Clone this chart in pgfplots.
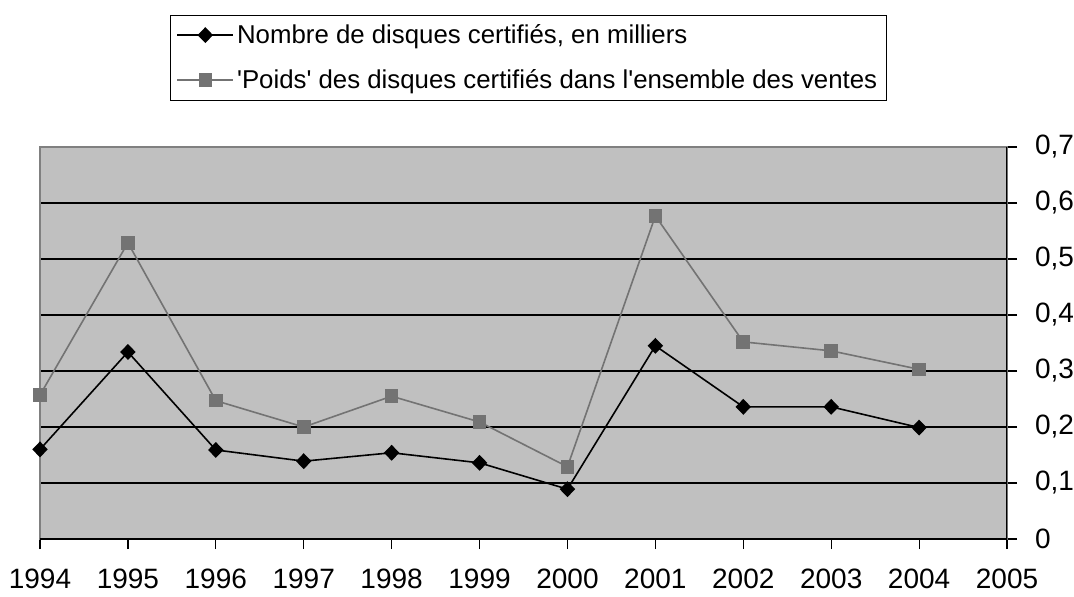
\documentclass[border=0pt]{standalone}
\usepackage{fontspec}
\setmainfont{Liberation Sans}
\usepackage{pgfplots}
\pgfplotsset{compat=1.18}
\definecolor{plotbg}{HTML}{C0C0C0}
\definecolor{sergray}{HTML}{737373}
\begin{document}
\begin{tikzpicture}
\path[use as bounding box] (-20pt,-28.5pt) rectangle (517pt,269.5pt);
\begin{axis}[
  at={(0,0)}, anchor=south west,
  scale only axis,
  width=483.5pt, height=196pt,
  xmin=0, xmax=11, ymin=0, ymax=0.7,
  xtick={0,1,...,11},
  xticklabels={1994,1995,1996,1997,1998,1999,2000,2001,2002,2003,2004,2005},
  ytick={0,0.1,...,0.7},
  yticklabel pos=right,
  xtick pos=bottom, ytick pos=right,
  tick align=outside,
  major tick length=5pt,
  tick style={black, line width=0.6pt},
  ymajorgrids,
  grid style={black, line width=0.6pt},
  axis background/.style={fill=plotbg},
  axis line style={gray, line width=0.6pt},
  /pgf/number format/.cd, fixed, precision=1, use comma, assume math mode=true,
  /pgfplots/.cd,
  ticklabel style={font=\fontsize{14}{16}\selectfont},
  yticklabel style={xshift=5.5pt},
  xticklabel style={yshift=-6.5pt},
  legend style={at={(0.505,1.338)}, anchor=north, draw=black, line width=0.6pt,
    font=\fontsize{12.9}{15}\selectfont, row sep=8.5pt, inner sep=3pt,
    nodes={inner sep=1.5pt}},
  legend cell align=left,
  legend image code/.code={
    \draw[mark repeat=2, mark phase=2] plot coordinates {(0pt,0pt) (14pt,0pt) (28pt,0pt)};},
]
\addplot[black, line width=0.8pt, mark=diamond*, mark size=3.4pt, mark options={xscale=1.3, solid}]
coordinates {(0,0.160) (1,0.334) (2,0.159) (3,0.139) (4,0.154) (5,0.136) (6,0.089) (7,0.345) (8,0.236) (9,0.236) (10,0.199)};
\addlegendentry{Nombre de disques certifiés, en milliers}
\addplot[sergray, line width=0.8pt, mark=square*, mark size=3pt, mark options={solid}]
coordinates {(0,0.257) (1,0.529) (2,0.247) (3,0.200) (4,0.255) (5,0.209) (6,0.129) (7,0.577) (8,0.352) (9,0.336) (10,0.303)};
\addlegendentry{\textquotesingle Poids\textquotesingle{} des disques certifiés dans l\textquotesingle ensemble des ventes}
\draw[black, line width=0.6pt] (rel axis cs:0,0) -- (rel axis cs:1,0) -- (rel axis cs:1,1);
\end{axis}
\end{tikzpicture}
\end{document}
